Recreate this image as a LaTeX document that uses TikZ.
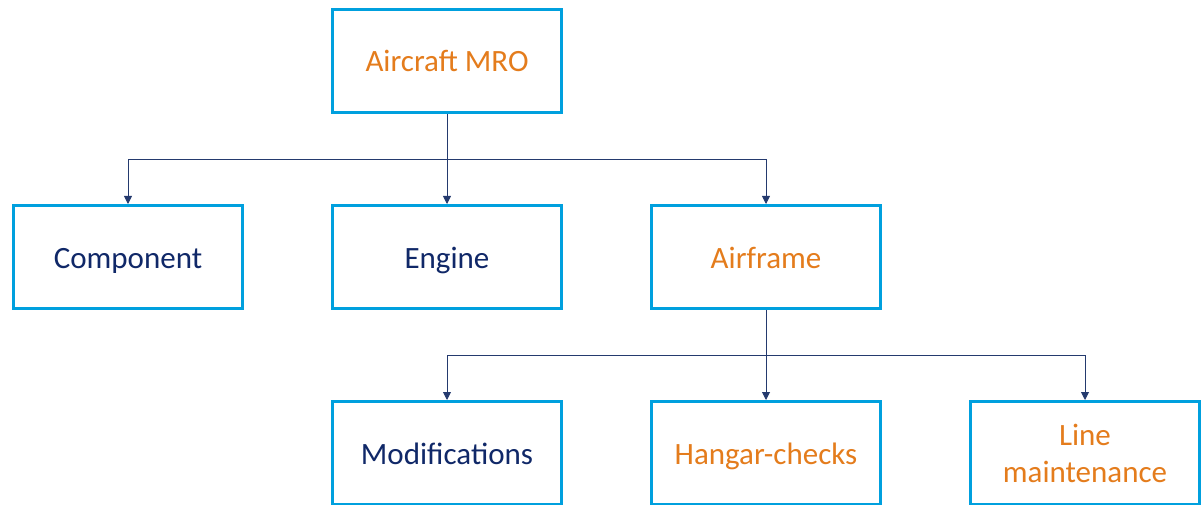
\documentclass[tikz,border=0pt]{standalone}
\usepackage{fontspec}
\setmainfont{Carlito}
\usetikzlibrary{arrows.meta}
\definecolor{boxblue}{RGB}{0,160,222}
\definecolor{navytext}{RGB}{16,40,104}
\definecolor{orangetext}{RGB}{228,124,28}
\definecolor{linknavy}{RGB}{36,58,110}
\tikzset{
  unit/.style={draw=boxblue, line width=3pt, fill=white,
    minimum width=229pt, minimum height=103pt, inner sep=0pt,
    align=center, font=\fontsize{31}{37}\selectfont},
  oneline/.style={text height=24pt, text depth=2pt},
  navy/.style={text=navytext},
  amber/.style={text=orangetext},
  conn/.style={draw=linknavy, line width=0.9pt,
    -{Triangle[width=8pt,length=8pt]}},
  trunk/.style={draw=linknavy, line width=0.9pt}
}
\begin{document}
\begin{tikzpicture}[x=1pt,y=-1pt]
  \useasboundingbox (0,0) rectangle (1202,505);
  % top level
  \node[unit,oneline,amber] (mro) at (447,61) {Aircraft MRO};
  % second level
  \node[unit,oneline,navy]  (comp) at (128,257) {Component};
  \node[unit,oneline,navy]  (eng)  at (447,257) {Engine};
  \node[unit,oneline,amber] (air)  at (766,257) {Airframe};
  % third level
  \node[unit,oneline,navy]  (mod)  at (447,453) {Modifications};
  \node[unit,oneline,amber] (hang) at (766,453) {Hangar-checks};
  \node[unit,amber] (line) at (1085,453) {Line\\maintenance};
  % branch points
  \coordinate (bus1) at (447,159);
  \coordinate (bus2) at (766,355);
  % connectors
  \draw[trunk] (mro.south) -- (bus1);
  \draw[conn] (bus1) -| (comp.north);
  \draw[conn] (bus1) -- (eng.north);
  \draw[conn] (bus1) -| (air.north);
  \draw[trunk] (air.south) -- (bus2);
  \draw[conn] (bus2) -| (mod.north);
  \draw[conn] (bus2) -- (hang.north);
  \draw[conn] (bus2) -| (line.north);
\end{tikzpicture}
\end{document}
